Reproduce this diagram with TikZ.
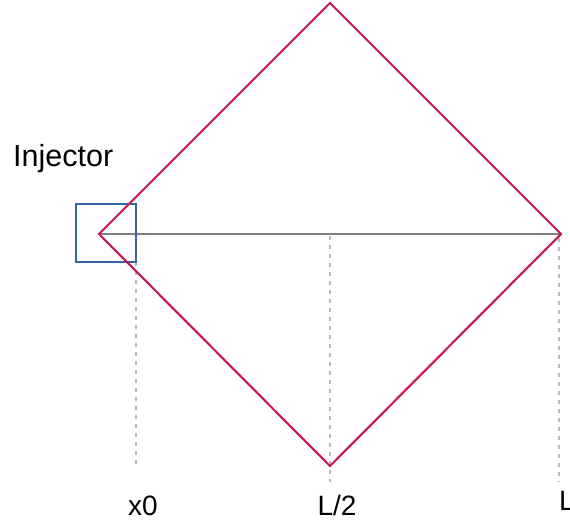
\documentclass[tikz,border=0pt]{standalone}
\usepackage{fontspec}
\setmainfont{Liberation Sans}
\definecolor{wall}{RGB}{200,22,78}
\definecolor{inj}{RGB}{52,102,160}
\definecolor{axisgray}{RGB}{128,128,128}
\definecolor{guidegray}{RGB}{185,185,185}
\begin{document}
\begin{tikzpicture}[x=1pt,y=-1pt,
  wallline/.style={draw=wall,line width=2.1pt,line join=miter},
  injbox/.style={draw=inj,line width=2.1pt},
  axisline/.style={draw=axisgray,line width=2.3pt},
  guide/.style={draw=guidegray,line width=2.3pt,dash pattern=on 4pt off 5pt},
  lbl/.style={font=\fontsize{28}{32}\selectfont,inner sep=0pt},
  font=\fontsize{30.5}{36}\selectfont]
  \useasboundingbox (0,0) rectangle (570,525);
  % diamond corners
  \coordinate (W) at (99,234);
  \coordinate (N) at (330,3);
  \coordinate (E) at (561,234);
  \coordinate (S) at (330,466);
  % guide feet
  \coordinate (x0top) at (136,262);
  \coordinate (x0bot) at (136,467);
  \coordinate (midtop) at (330,236);
  \coordinate (midbot) at (330,482);
  \coordinate (Etop) at (559,238);
  \coordinate (Ebot) at (559,482);
  % dashed guides
  \draw[guide] (x0top) -- (x0bot);
  \draw[guide] (midtop) -- (midbot);
  \draw[guide] (Etop) -- (Ebot);
  % axis
  \draw[axisline] (W) -- (E);
  % injector box
  \draw[injbox] (76,204) rectangle (136,262);
  % diamond
  \draw[wallline] (W) -- (N) -- (E) -- (S) -- cycle;
  % labels
  \node[anchor=base west,inner sep=0pt] (injlabel) at (13,166) {Injector};
  \node[lbl,anchor=base] (lx0) at (143,515) {x0};
  \node[lbl,anchor=base] (lhalf) at (337,515) {L/2};
  \node[lbl,anchor=base west] (lL) at (559,510) {L};
\end{tikzpicture}
\end{document}
